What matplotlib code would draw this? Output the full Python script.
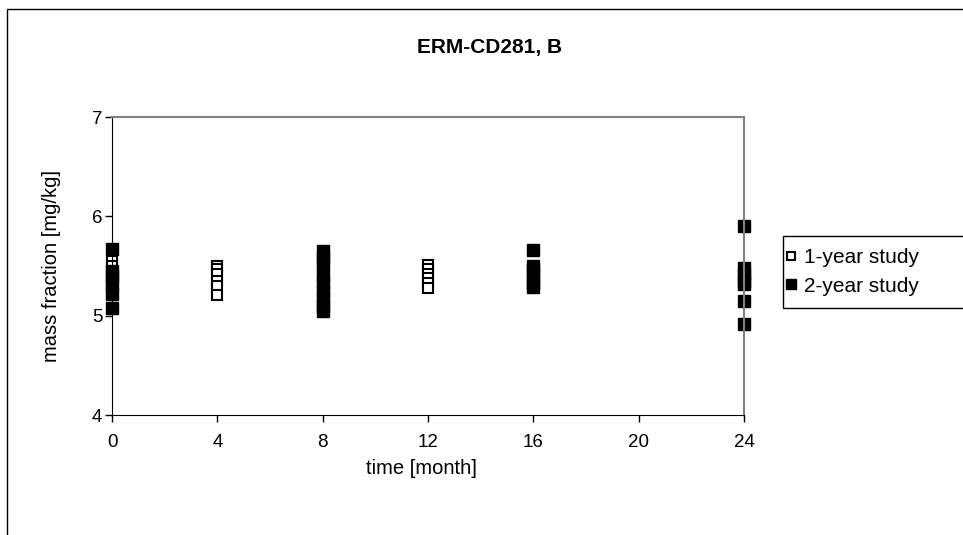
import matplotlib.pyplot as plt
from matplotlib.patches import Rectangle

plt.rcParams['font.family'] = ['Liberation Sans', 'DejaVu Sans']

# 1-year study
t_1y = [0, 0, 0, 0,
        4, 4, 4, 4, 4, 4,
        8, 8, 8,
        12, 12, 12, 12, 12, 12]
y_1y = [5.55, 5.50, 5.30, 5.27,
        5.50, 5.47, 5.42, 5.35, 5.30, 5.21,
        5.48, 5.44, 5.10,
        5.51, 5.47, 5.42, 5.38, 5.33, 5.28]

# 2-year study
t_2y = [0, 0, 0, 0, 0, 0,
        8, 8, 8, 8, 8, 8, 8, 8, 8,
        16, 16, 16, 16, 16, 16,
        24, 24, 24, 24, 24, 24, 24]
y_2y = [5.67, 5.45, 5.40, 5.32, 5.22, 5.08,
        5.65, 5.58, 5.52, 5.40, 5.33, 5.25, 5.18, 5.10, 5.05,
        5.66, 5.50, 5.46, 5.40, 5.33, 5.29,
        5.90, 5.48, 5.42, 5.35, 5.32, 5.15, 4.92]

x_ticks = [0, 4, 8, 12, 16, 20, 24]
y_ticks = [4, 5, 6, 7]

W, H = 963, 535
fig = plt.figure(figsize=(W / 100, H / 100), dpi=100)
ax = fig.add_axes([112 / W, 1 - 415 / H, (744 - 112) / W, (415 - 117) / H])

ax.plot(t_1y, y_1y, linestyle='none', marker='s', markersize=7.2,
        markerfacecolor='white', markeredgecolor='black', markeredgewidth=1.5,
        label='1-year study', clip_on=False)
ax.plot(t_2y, y_2y, linestyle='none', marker='s', markersize=8,
        markerfacecolor='black', markeredgecolor='black',
        label='2-year study', clip_on=False)

ax.set_xlim(0, 24)
ax.set_ylim(4, 7)
ax.set_xticks(x_ticks)
ax.set_yticks(y_ticks)
ax.tick_params(direction='out', length=5, width=1, labelsize=13.5)
ax.tick_params(axis='x', pad=9)
ax.tick_params(axis='y', pad=2)

for s in ['left', 'bottom']:
    ax.spines[s].set_color('black')
for s in ['top', 'right']:
    ax.spines[s].set_color('#808080')
    ax.spines[s].set_linewidth(1.5)

ax.set_xlabel('time [month]', fontsize=14.5)
ax.set_ylabel('mass fraction [mg/kg]', fontsize=14.5)
ax.xaxis.set_label_coords(0.49, (415 - 459) / 298)
ax.yaxis.set_label_coords((61 - 112) / 632, 0.5)

fig.text(490 / W, 1 - 48 / H, 'ERM-CD281, B', ha='center', va='center',
         fontsize=15, fontweight='bold')

leg = fig.legend(loc='center left', bbox_to_anchor=(771 / W, 1 - 272 / H),
                 frameon=False, fontsize=15, handlelength=0.5,
                 handletextpad=0.4, borderpad=0.2, labelspacing=0.45,
                 markerscale=0.85)

# legend box, runs off the right edge like the original
fig.patches.append(Rectangle((783 / W, 1 - 308 / H), 200 / W, 72 / H,
                             transform=fig.transFigure, fill=False,
                             edgecolor='black', linewidth=1))

# chart area border
fig.patches.append(Rectangle((7 / W, -0.1), 1.2, 1.1 - 9 / H,
                             transform=fig.transFigure, fill=False,
                             edgecolor='black', linewidth=1))

fig.savefig('out.png', dpi=100)
